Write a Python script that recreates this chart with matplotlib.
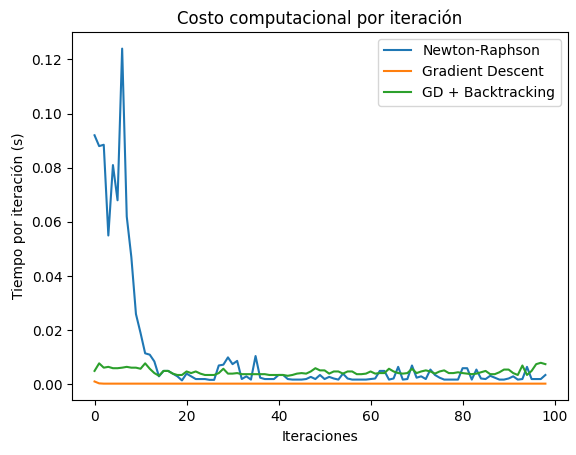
import matplotlib
matplotlib.use("Agg")
import matplotlib.pyplot as plt

newton = [0.092, 0.088, 0.0885, 0.055, 0.081, 0.068, 0.124, 0.062, 0.047, 0.026, 0.019, 0.0115,
          0.011, 0.0085, 0.003, 0.005, 0.005, 0.004, 0.003, 0.0015, 0.004, 0.003, 0.002, 0.002,
          0.002, 0.0017, 0.0017, 0.007, 0.0073, 0.010, 0.0075, 0.0087, 0.002, 0.003, 0.0018,
          0.0105, 0.0025, 0.002, 0.002, 0.002, 0.0035, 0.0035, 0.002, 0.0018, 0.0018, 0.0018,
          0.002, 0.0028, 0.002, 0.0035, 0.002, 0.0028, 0.0022, 0.0018, 0.004, 0.0022, 0.0018,
          0.0018, 0.0018, 0.0018, 0.002, 0.0022, 0.005, 0.005, 0.0018, 0.0022, 0.0065, 0.0018,
          0.002, 0.007, 0.0025, 0.003, 0.002, 0.0055, 0.0035, 0.0025, 0.0018, 0.0018, 0.0018,
          0.0018, 0.006, 0.006, 0.0018, 0.0055, 0.0022, 0.002, 0.0032, 0.0025, 0.0018, 0.0018,
          0.0022, 0.003, 0.0018, 0.002, 0.0065, 0.002, 0.002, 0.002, 0.0035]
gd = [0.0011, 0.0004] + [0.0003] * 97
gdbt = [0.005, 0.0078, 0.0062, 0.0065, 0.006, 0.006, 0.0062, 0.0065, 0.0062, 0.0062, 0.0058,
        0.0078, 0.0058, 0.0042, 0.0032, 0.005, 0.005, 0.004, 0.0035, 0.0035, 0.0048, 0.0042,
        0.0048, 0.004, 0.0035, 0.0035, 0.0035, 0.0042, 0.0058, 0.004, 0.004, 0.0042, 0.0038,
        0.0038, 0.0038, 0.0038, 0.0038, 0.0038, 0.0035, 0.0035, 0.0035, 0.0035, 0.0032, 0.0035,
        0.004, 0.0042, 0.004, 0.0048, 0.006, 0.0052, 0.0052, 0.004, 0.0048, 0.0048, 0.004,
        0.0048, 0.0048, 0.0038, 0.0038, 0.004, 0.0048, 0.004, 0.0042, 0.0042, 0.0058, 0.0048,
        0.0042, 0.004, 0.0042, 0.0058, 0.0042, 0.0048, 0.0052, 0.0048, 0.004, 0.0048, 0.0052,
        0.0042, 0.0042, 0.0045, 0.0042, 0.004, 0.0038, 0.004, 0.0045, 0.005, 0.0038, 0.0038,
        0.0045, 0.0055, 0.0055, 0.0042, 0.0035, 0.007, 0.0035, 0.005, 0.0075, 0.008, 0.0075, 0.008][:99]
x = list(range(len(newton)))

fig, ax = plt.subplots(figsize=(5.76, 4.55), dpi=100)
ax.plot(x, newton, label="Newton-Raphson")
ax.plot(x, gd, label="Gradient Descent")
ax.plot(x, gdbt, label="GD + Backtracking")
ax.set_title("Costo computacional por iteración")
ax.set_xlabel("Iteraciones")
ax.set_ylabel("Tiempo por iteración (s)")
ax.legend()
fig.subplots_adjust(left=0.125, right=0.986, top=0.93, bottom=0.12)
fig.savefig("out.png")
